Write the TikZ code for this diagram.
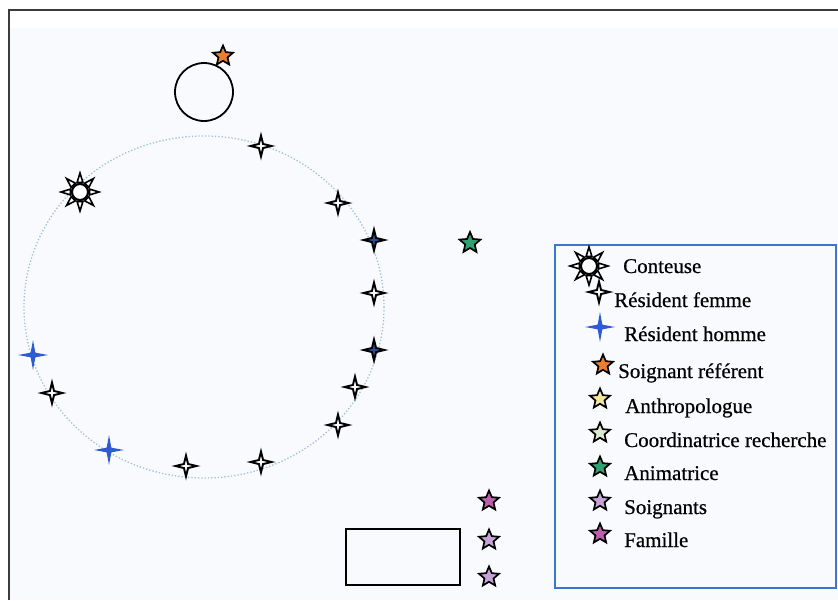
\documentclass[tikz,border=0pt]{standalone}
\usepackage{fontspec}
\setmainfont{Liberation Serif}
\newfontfamily\legfont[FakeBold=0.6]{Liberation Serif}
\usetikzlibrary{shapes.geometric,calc}
\definecolor{bgc}{HTML}{F9FAFD}
\definecolor{framec}{HTML}{3C3C3C}
\definecolor{legc}{HTML}{3A78D0}
\definecolor{orbitc}{HTML}{9EC2DA}
\definecolor{orangec}{HTML}{EE7E2C}
\definecolor{yellowc}{HTML}{F3E79C}
\definecolor{lgreenc}{HTML}{D9EAD0}
\definecolor{greenc}{HTML}{2FA274}
\definecolor{purplec}{HTML}{C6A3D6}
\definecolor{magentac}{HTML}{BE5FAE}
\definecolor{bluec}{HTML}{2E5AD6}
\definecolor{dbluec}{HTML}{2C4F9C}
\tikzset{
  fivestar/.style={star, star points=5, star point ratio=2.2, minimum size=21pt, inner sep=0pt, draw=black, line width=1.7pt},
  femme/.style={star, star points=4, star point ratio=3.6, minimum size=21pt, inner sep=0pt, draw=black, fill=white, line width=1.9pt},
  hommeo/.style={star, star points=4, star point ratio=3.6, minimum size=21pt, inner sep=0pt, draw=black, fill=dbluec, line width=1.9pt},
  homme/.style={star, star points=4, star point ratio=4.5, minimum size=20pt, inner sep=0pt, draw=bluec, fill=bluec, line width=1.8pt},
  suncore/.style={circle, draw=black, fill=white, line width=2pt, minimum size=16pt, inner sep=0pt},
  legtxt/.style={anchor=base west, inner sep=0pt, font=\legfont\fontsize{21}{24}\selectfont},
}
\newcommand{\sunrays}[1]{%
  \foreach \a in {0,45,...,315}{
    \draw[line width=1.6pt, fill=white, line join=miter]
      ($(#1)+(\a-17:10pt)$) -- ($(#1)+(\a:19pt)$) -- ($(#1)+(\a+17:10pt)$) -- cycle;
  }}
\begin{document}
\begin{tikzpicture}[x=1pt,y=-1pt]
\useasboundingbox (0,0) rectangle (838,600);
\fill[white] (0,0) rectangle (838,600);
\fill[bgc] (9,28) rectangle (838,600);
\draw[framec, line width=1.8pt] (9,600) -- (9,10) -- (838,10);
% orbit
\draw[orbitc, dotted, line width=1.3pt] (204,307) ellipse [x radius=180, y radius=171];
% small circle
\node[circle, draw=black, line width=1.8pt, minimum size=58pt, inner sep=0pt] (table) at (204,92) {};
\node[fivestar, fill=orangec] (ref) at (223,56) {};
% conteuse
\node[suncore] (sun) at (80,192) {};
\sunrays{sun}
\node[suncore] (sun) at (80,192) {};
% residents femme
\node[femme] (f1) at (261,146) {};
\node[femme] (f2) at (338,203) {};
\node[femme] (f3) at (374,293) {};
\node[femme] (f4) at (355,387) {};
\node[femme] (f5) at (338,425) {};
\node[femme] (f6) at (261,462) {};
\node[femme] (f7) at (186,466) {};
\node[femme] (f8) at (52,393) {};
% residents homme
\node[hommeo] (h1) at (374,240) {};
\node[hommeo] (h2) at (374,350) {};
\node[homme] (h3) at (33,355) {};
\node[homme] (h4) at (109,450) {};
% animatrice
\node[fivestar, fill=greenc, minimum size=22pt] (anim) at (470,243) {};
% rectangle and stars
\node[draw=black, line width=1.8pt, minimum width=114pt, minimum height=56pt, inner sep=0pt] (rect) at (403,557) {};
\node[fivestar, fill=magentac] (fam) at (489,501) {};
\node[fivestar, fill=purplec] (s1) at (489,540) {};
\node[fivestar, fill=purplec] (s2) at (489,577) {};
% legend
\node[draw=legc, line width=1.8pt, minimum width=281pt, minimum height=343pt, inner sep=0pt] (legend) at (695.5,416.5) {};
\node[suncore] (lsun) at (589,266) {};
\sunrays{lsun}
\node[suncore] (lsun) at (589,266) {};
\node[legtxt] (t1) at (623,273) {Conteuse};
\node[femme] (lf) at (599,292) {};
\node[legtxt] (t2) at (614,307) {Résident femme};
\node[homme] (lh) at (600,327) {};
\node[legtxt] (t3) at (624,341) {Résident homme};
\node[fivestar, fill=orangec] (lo) at (603,365) {};
\node[legtxt] (t4) at (618,378) {Soignant référent};
\node[fivestar, fill=yellowc] (ly) at (600,399) {};
\node[legtxt] (t5) at (625,413) {Anthropologue};
\node[fivestar, fill=lgreenc] (lg) at (600,433) {};
\node[legtxt] (t6) at (624,447) {Coordinatrice recherche};
\node[fivestar, fill=greenc] (la) at (600,467) {};
\node[legtxt] (t7) at (624,480) {Animatrice};
\node[fivestar, fill=purplec] (lp) at (600,501) {};
\node[legtxt] (t8) at (624,514) {Soignants};
\node[fivestar, fill=magentac] (lm) at (600,534) {};
\node[legtxt] (t9) at (624,547) {Famille};
\end{tikzpicture}
\end{document}
